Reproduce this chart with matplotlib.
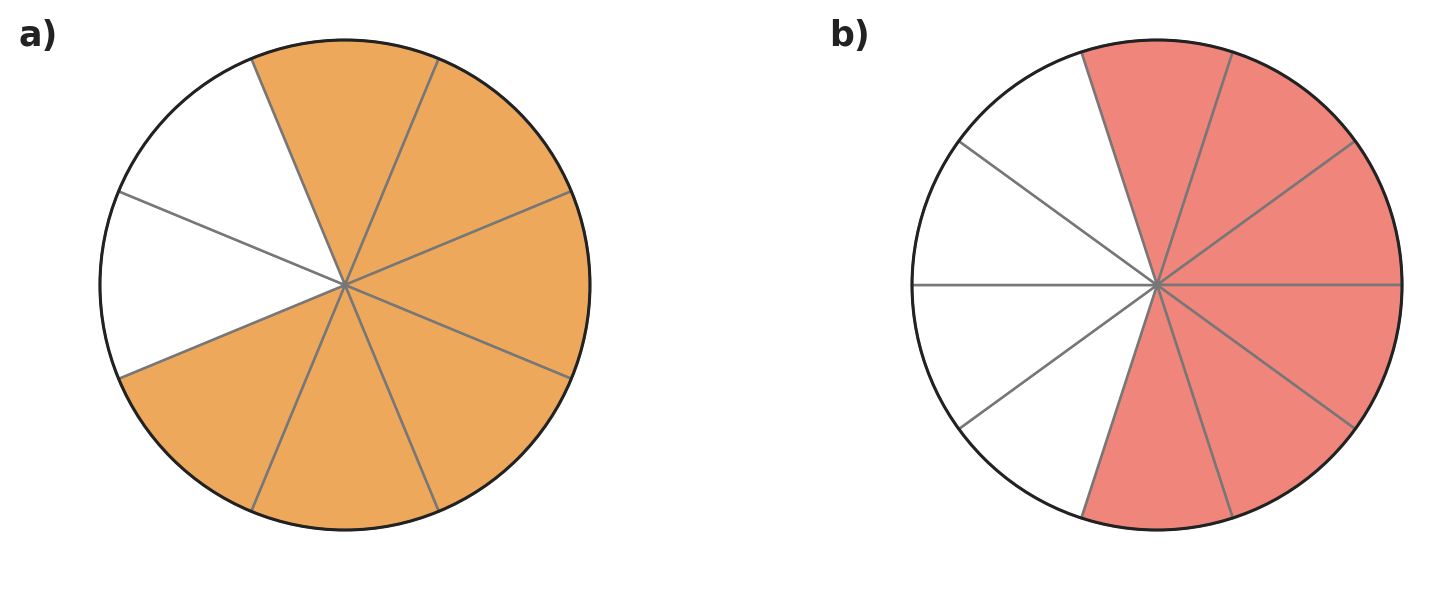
import matplotlib.pyplot as plt
from matplotlib.patches import Circle

# panel a: 8 equal parts, 6 shaded ; panel b: 10 equal parts, 6 shaded
labels = ['a)', 'b)']
n_parts = [8, 10]
shaded = [
    [True, True, True, True, True, True, False, False],
    [True, True, True, True, True, True, False, False, False, False],
]
start_angles = [112.5, 108]
fill_colors = ['#EDA85C', '#F0857C']

fig = plt.figure(figsize=(14.54, 5.94), dpi=100)
ax_rects = [[0.0519, 0.0665, 0.3707, 0.9074], [0.6104, 0.0665, 0.3707, 0.9074]]
label_x = [19 / 1454, 829 / 1454]

for i in range(2):
    ax = fig.add_axes(ax_rects[i])
    colors = [fill_colors[i] if s else 'white' for s in shaded[i]]
    ax.pie([1] * n_parts[i], colors=colors, startangle=start_angles[i],
           counterclock=False, radius=1.0,
           wedgeprops=dict(edgecolor='#777777', linewidth=1.8))
    ax.add_patch(Circle((0, 0), 1.0, fill=False, edgecolor='#222222', linewidth=2.2, zorder=5))
    ax.set_xlim(-1.1, 1.1)
    ax.set_ylim(-1.1, 1.1)
    ax.set_aspect('equal')
    ax.axis('off')
    fig.text(label_x[i], 1 - 46 / 594, labels[i], fontsize=25, fontweight='bold',
             color='#222222', ha='left', va='baseline')

fig.savefig('out.png', dpi=100)
